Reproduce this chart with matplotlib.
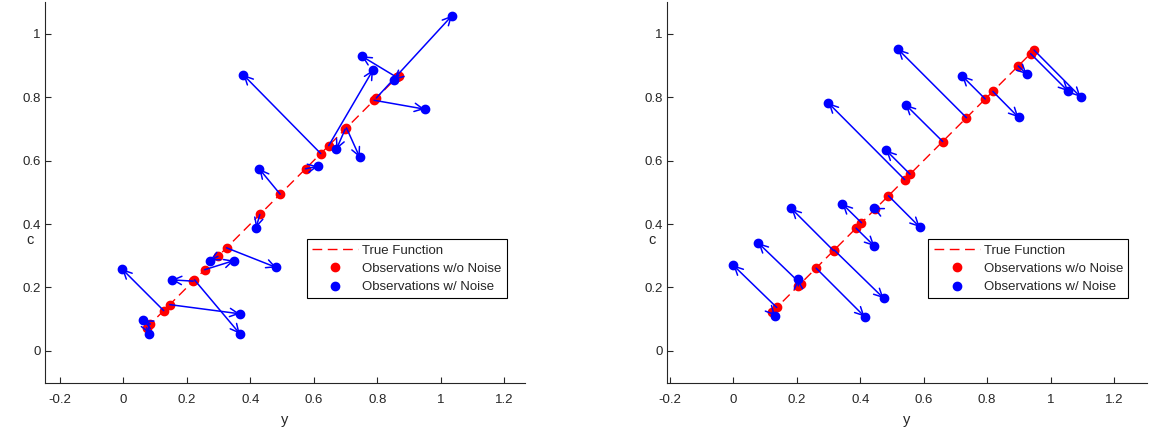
import numpy as np
from matplotlib import pyplot as plt

plt.rcParams['font.family'] = ['Liberation Sans', 'DejaVu Sans']

# 左图: 随机方向噪声 (red = true point on c=y, blue = noisy observation)
left_true = [0.073, 0.085, 0.127, 0.146, 0.220, 0.224, 0.256, 0.298, 0.325, 0.430,
             0.494, 0.574, 0.622, 0.647, 0.699, 0.703, 0.790, 0.797, 0.862, 0.868]
left_noisy_y = [0.082, 0.062, -0.004, 0.367, 0.152, 0.367, 0.349, 0.272, 0.482, 0.418,
                0.428, 0.613, 0.378, 0.787, 0.671, 0.745, 0.949, 1.036, 0.751, 0.852]
left_noisy_c = [0.054, 0.096, 0.258, 0.117, 0.224, 0.054, 0.285, 0.285, 0.263, 0.388,
                0.574, 0.582, 0.870, 0.886, 0.635, 0.610, 0.762, 1.057, 0.929, 0.854]

# 右图: 垂直于直线方向的噪声
right_true = [0.122, 0.137, 0.205, 0.212, 0.261, 0.316, 0.318, 0.387, 0.404, 0.448,
              0.489, 0.540, 0.557, 0.660, 0.735, 0.794, 0.818, 0.898, 0.937, 0.948]
right_noisy_y = [0.132, 0.000, 0.204, 0.079, 0.414, 0.183, 0.474, 0.445, 0.344, 0.442,
                 0.588, 0.300, 0.482, 0.543, 0.519, 0.721, 0.899, 0.925, 1.056, 1.095]
right_noisy_c = [0.111, 0.270, 0.227, 0.340, 0.108, 0.449, 0.166, 0.330, 0.463, 0.451,
                 0.390, 0.781, 0.632, 0.776, 0.951, 0.867, 0.736, 0.872, 0.818, 0.800]

xticks = [-0.2, 0, 0.2, 0.4, 0.6, 0.8, 1, 1.2]
xticklabels = ['-0.2', '0', '0.2', '0.4', '0.6', '0.8', '1', '1.2']
yticks = [0, 0.2, 0.4, 0.6, 0.8, 1]
yticklabels = ['0', '0.2', '0.4', '0.6', '0.8', '1']
legend_labels = ['True Function', 'Observations w/o Noise', 'Observations w/ Noise']

grey = '#262626'
fs = 9.5

fig = plt.figure(figsize=(11.52, 4.37), dpi=100)
ax1 = fig.add_axes([0.0391, 0.1243, 0.4167, 0.8714])
ax2 = fig.add_axes([0.5787, 0.1243, 0.4167, 0.8714])


def draw(ax, tx, ny, nc, xlim):
    tx = np.array(tx)
    line, = ax.plot([tx.min(), tx.max()], [tx.min(), tx.max()], '--', color='r',
                    lw=1.0, dashes=(7, 4), zorder=1)
    red, = ax.plot(tx, tx, 'o', color='r', ms=6, zorder=2, linestyle='none')
    blue, = ax.plot(ny, nc, 'o', color='b', ms=6, zorder=3, linestyle='none')
    for x0, x1, y1 in zip(tx, ny, nc):
        ax.annotate('', xy=(x1, y1), xytext=(x0, x0),
                    arrowprops=dict(arrowstyle='->,head_length=0.5,head_width=0.25',
                                    color='b', lw=1.1, shrinkA=0, shrinkB=0,
                                    mutation_scale=12),
                    zorder=4)
    ax.set_xlim(*xlim)
    ax.set_ylim(-0.1, 1.1)
    ax.set_xticks(xticks)
    ax.set_xticklabels(xticklabels)
    ax.set_yticks(yticks)
    ax.set_yticklabels(yticklabels)
    ax.spines['top'].set_visible(False)
    ax.spines['right'].set_visible(False)
    for s in ['left', 'bottom']:
        ax.spines[s].set_color(grey)
        ax.spines[s].set_linewidth(0.8)
    ax.tick_params(direction='in', length=4, width=0.8, color=grey,
                   labelcolor=grey, labelsize=fs)
    ax.tick_params(axis='x', pad=8)
    ax.tick_params(axis='y', pad=3)
    ax.set_xlabel('y', fontsize=fs + 1, color=grey, labelpad=5)
    ax.text(-0.031, 0.375, 'c', transform=ax.transAxes, fontsize=fs + 1,
            color=grey, ha='center', va='center')
    leg = ax.legend([line, red, blue], legend_labels, loc='upper left',
                    bbox_to_anchor=(0.545, 0.3766), borderaxespad=0,
                    fontsize=fs, fancybox=False, framealpha=1, edgecolor='k',
                    handlelength=3.5, handletextpad=0.3, labelspacing=0.45,
                    borderpad=0.4)
    leg.get_frame().set_linewidth(0.8)
    for t in leg.get_texts():
        t.set_color(grey)


draw(ax1, left_true, left_noisy_y, left_noisy_c, (-0.247, 1.266))
draw(ax2, right_true, right_noisy_y, right_noisy_c, (-0.21, 1.303))

fig.savefig('out.png', dpi=100)
